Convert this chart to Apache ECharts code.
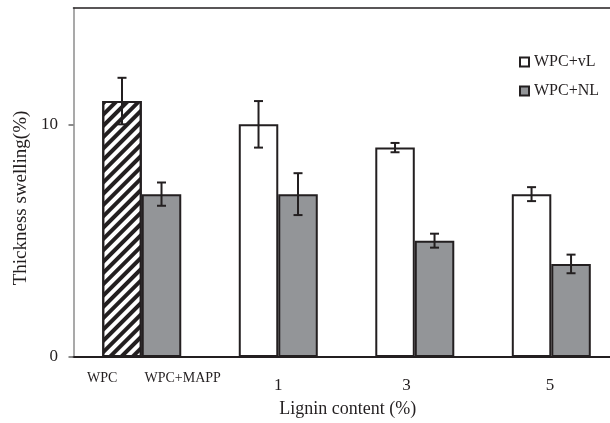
<!DOCTYPE html>
<html><head><meta charset="utf-8">
<script src="https://cdn.jsdelivr.net/npm/echarts@6/dist/echarts.min.js"></script>
<style>html,body{margin:0;padding:0;background:#fff}#c{width:610px;height:423px}</style>
</head><body><div id="c"></div>
<script>
// ---- data ----
const groups = [0, 1, 2, 3];               // control group, 1 %, 3 %, 5 % lignin
const vLName = 'WPC+vL';
const nlName = 'WPC+NL';
const vLValues = [11, 10, 9, 7];           // first bar of each group (WPC, then WPC+vL)
const vLErrors = [1, 1, 0.2, 0.3];
const nlValues = [7, 7, 5, 4];             // second bar (WPC+MAPP, then WPC+NL)
const nlErrors = [0.5, 0.9, 0.3, 0.4];
const xTickLabels = ['WPC', 'WPC+MAPP', '1', '3', '5'];
const xTickPositions = [-0.29, 0.3, 1.0, 1.94, 2.99];
const yTickValues = [0, 10];
const xAxisName = 'Lignin content (%)';
const yAxisName = 'Thickness swelling(%)';

// ---- style ----
const font = 'Liberation Serif';
const ink = '#231f20';
const grey = '#939598';
const barW = 39.5;

const chart = echarts.init(document.getElementById('c'), null, {renderer: 'canvas'});

const vLData = groups.map((g, i) => {
  const item = {value: [g, vLValues[i]]};
  if (i === 0) {
    item.itemStyle = {
      color: '#ffffff',
      decal: {symbol: 'rect', symbolSize: 1, dashArrayX: [1, 0], dashArrayY: [3.5, 4],
              rotation: -Math.PI / 4, color: ink}
    };
  }
  return item;
});
const nlData = groups.map((g, i) => ({value: [g, nlValues[i]]}));

function errSeries(values, errors, side) {
  return {
    type: 'custom', z: 10, silent: true,
    data: groups.map((g, i) => [g, values[i] - errors[i], values[i] + errors[i]]),
    encode: {x: 0, y: [1, 2]},
    renderItem(params, api) {
      const x = api.value(0);
      const lo = api.coord([x, api.value(1)]);
      const hi = api.coord([x, api.value(2)]);
      const cx = lo[0] + side * barW / 2;
      const cap = 4.5;
      const st = {stroke: ink, lineWidth: 2};
      return {type: 'group', children: [
        {type: 'line', shape: {x1: cx, y1: lo[1], x2: cx, y2: hi[1]}, style: st},
        {type: 'line', shape: {x1: cx - cap, y1: lo[1], x2: cx + cap, y2: lo[1]}, style: st},
        {type: 'line', shape: {x1: cx - cap, y1: hi[1], x2: cx + cap, y2: hi[1]}, style: st}
      ]};
    }
  };
}

const xMin = -0.5, xMax = 3.43;

const option = {
  backgroundColor: '#ffffff',
  animation: false,
  textStyle: {fontFamily: font, color: ink},
  grid: {left: 73.5, top: 8, right: 0, height: 349.5},
  legend: {
    orient: 'vertical', left: 519, top: 54, padding: 0,
    itemWidth: 9, itemHeight: 9, itemGap: 13, icon: 'rect',
    textStyle: {fontFamily: font, fontSize: 16, color: ink},
    data: [vLName, nlName]
  },
  xAxis: [{
    type: 'value', min: xMin, max: xMax, position: 'bottom',
    axisLine: {show: true, onZero: false, lineStyle: {color: ink, width: 2}},
    axisTick: {show: false},
    splitLine: {show: false},
    axisLabel: {
      customValues: xTickPositions, margin: 14,
      formatter: (v) => {
        let idx = 0, best = Infinity;
        xTickPositions.forEach((p, i) => { if (Math.abs(p - v) < best) { best = Math.abs(p - v); idx = i; } });
        const t = xTickLabels[idx];
        return idx < 2 ? '{s|' + t + '}' : '{n|' + t + '}';
      },
      rich: {
        s: {fontFamily: font, fontSize: 14, color: ink},
        n: {fontFamily: font, fontSize: 17, color: ink, padding: [6, 0, 0, 0]}
      }
    },
    name: xAxisName, nameLocation: 'middle', nameGap: 43,
    nameTextStyle: {fontFamily: font, fontSize: 18, color: ink, padding: [0, 0, 0, 12]}
  }, {
    type: 'value', min: xMin, max: xMax, position: 'top',
    axisLine: {show: true, onZero: false, lineStyle: {color: ink, width: 1.5}},
    axisTick: {show: false}, axisLabel: {show: false}, splitLine: {show: false}
  }],
  yAxis: {
    type: 'value', min: 0, max: 15, interval: 5,
    axisLine: {show: true, onZero: false, lineStyle: {color: '#8c8c8c', width: 1.5}},
    axisTick: {show: true, customValues: yTickValues, length: 5, lineStyle: {color: '#666', width: 1.5}},
    axisLabel: {customValues: yTickValues, margin: 15.5, fontFamily: font, fontSize: 17, color: ink},
    splitLine: {show: false},
    name: yAxisName, nameLocation: 'middle', nameGap: 42,
    nameTextStyle: {fontFamily: font, fontSize: 19, color: ink, padding: [0, 31, 0, 0]}
  },
  series: [{
    name: vLName, type: 'bar', barWidth: barW, barGap: '0%',
    itemStyle: {color: '#ffffff', borderColor: ink, borderWidth: 2},
    data: vLData
  }, {
    name: nlName, type: 'bar', barWidth: barW, barGap: '0%',
    itemStyle: {color: grey, borderColor: ink, borderWidth: 2},
    data: nlData
  },
  errSeries(vLValues, vLErrors, -1),
  errSeries(nlValues, nlErrors, 1)]
};
chart.setOption(option);
</script>
</body></html>
